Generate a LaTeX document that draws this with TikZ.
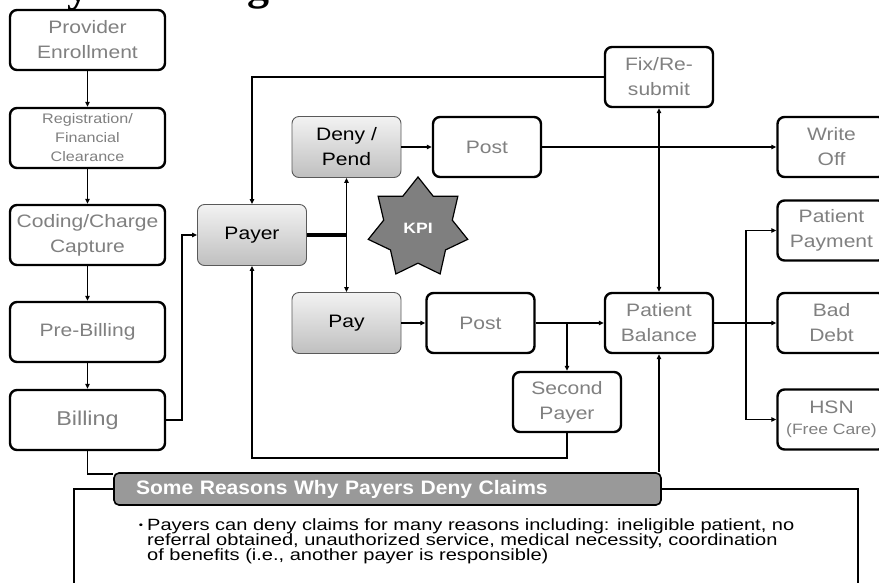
\documentclass[tikz,border=0pt]{standalone}
\usepackage{fontspec}
\setmainfont{Liberation Sans}[FakeStretch=1.17]
\newfontfamily\headfont{Liberation Sans}[FakeStretch=1.08]
\newfontfamily\notefont{Liberation Sans}[FakeStretch=1.23]
\newfontfamily\titlefont{Liberation Serif}
\usetikzlibrary{shapes.geometric,arrows.meta}
\definecolor{boxtext}{HTML}{808080}
\definecolor{headfill}{HTML}{999999}
\definecolor{kpifill}{HTML}{7F7F7F}

\begin{document}
\begin{tikzpicture}[x=1pt,y=-1pt,
  flow/.style={draw=black, line width=2.4pt, rounded corners=7pt, fill=white,
    text=boxtext, align=center, inner sep=0pt, minimum width=108pt,
    minimum height=60pt, font=\fontsize{18}{25}\selectfont},
  wide/.style={flow, minimum width=155pt},
  small/.style={font=\fontsize{13.8}{19}\selectfont},
  shaded/.style={draw=black!65, line width=0.9pt, rounded corners=7pt,
    top color=black!5, bottom color=black!25, text=black, align=center,
    inner sep=0pt, minimum width=109pt, minimum height=61pt,
    font=\fontsize{18}{25}\selectfont},
  link/.style={line width=1.8pt},
  arr/.style={link, -{Triangle[length=5pt,width=4.5pt]}},
]
\useasboundingbox (0,0) rectangle (879,582);

% heading glyphs cut by the top edge
\begin{scope}
  \clip (0,0) rectangle (879,582);
  \node[anchor=base, inner sep=0pt, font=\titlefont\bfseries\fontsize{44}{44}\selectfont] (ty) at (78,1) {y};
  \node[anchor=base, inner sep=0pt, font=\titlefont\bfseries\fontsize{44}{44}\selectfont] (tg) at (258,-1) {g};
\end{scope}

% left column
\node[wide] (prov) at (87.5,40) {Provider\\Enrollment};
\node[wide, small] (reg) at (87.5,138) {Registration/\\Financial\\Clearance};
\node[wide] (cod) at (87.5,235) {Coding/Charge\\Capture};
\node[wide] (pre) at (87.5,332) {Pre-Billing};
\node[wide, font=\fontsize{20}{25}\selectfont] (bill) at (87.5,420) {Billing};

% payer decisions
\node[shaded] (payer) at (252,235) {Payer};
\node[shaded] (deny) at (346.5,147) {Deny /\\Pend};
\node[shaded] (pay) at (346.5,323) {Pay};

% posting and follow-up
\node[flow] (posta) at (487,147) {Post};
\node[flow] (fix) at (659,77) {Fix/Re-\\submit};
\node[flow] (wo) at (831.5,147) {Write\\Off};
\node[flow] (postb) at (480.5,323) {Post};
\node[flow] (bal) at (659,323) {Patient\\Balance};
\node[flow] (sec) at (567,402) {Second\\Payer};
\node[flow] (pp) at (831.5,230.5) {Patient\\Payment};
\node[flow] (bd) at (831.5,323) {Bad\\Debt};
\node[flow] (hsn) at (831.5,419.5) {HSN\\[-4pt]{\fontsize{15}{18}\selectfont(Free Care)}};

\node[star, star points=7, star point ratio=1.45, minimum size=102pt, inner sep=0pt,
  fill=kpifill, draw=black, line width=1.2pt, text=white,
  font=\bfseries\fontsize{15}{18}\selectfont] (kpi) at (418,228) {KPI};

% left column flow
\draw[arr] (prov) -- (reg);
\draw[arr] (reg) -- (cod);
\draw[arr] (cod) -- (pre);
\draw[arr] (pre) -- (bill);
\draw[arr] (bill.east) -- ++(16,0) |- (payer.west);

% resubmission loop back to the payer
\draw[arr] (fix.west) -| (payer.north);

% payer outcome split
\coordinate (split) at (346.5,235);
\draw[line width=3.6pt] (payer.east) -- (split);
\draw[arr] (split) -- (deny.south);
\draw[arr] (split) -- (pay.north);

% denial path
\draw[arr] (deny) -- (posta);
\draw[arr] (posta) -- (wo);
\coordinate (fork) at (fix.south |- posta.east);
\draw[arr] (fork) -- (fix.south);
\draw[arr] (fork) -- (bal.north);

% payment path
\draw[arr] (pay) -- (postb);
\draw[arr] (postb) -- (bal);
\coordinate (branch) at (sec.north |- postb.east);
\draw[arr] (branch) -- (sec.north);
\draw[arr] (sec.south) -- ++(0,25) -| (payer.south);

% patient balance outcomes
\coordinate (rail) at (746,323);
\draw[arr] (bal) -- (bd);
\draw[arr] (rail) |- (pp.west);
\draw[arr] (rail) |- (hsn.west);

% reasons panel
\draw[line width=2pt] (74,600) -- (74,489) -- (858,489) -- (858,600);
\node[draw=black, line width=1.6pt, rounded corners=5pt, fill=headfill, text=white,
  minimum width=547pt, minimum height=32pt, inner sep=0pt, text width=503pt,
  align=left, font=\headfont\bfseries\fontsize{19.5}{22}\selectfont]
  (head) at (387.5,489) {Some Reasons Why Payers Deny Claims};
\coordinate (hl) at (113,474);
\draw[link] (bill.south) |- (hl);
\draw[arr] (head.north east -| bal.south) -- (bal.south);

\node[anchor=north west, inner sep=0pt, align=left,
  font=\notefont\fontsize{16.3}{15.4}\selectfont] (note) at (147,518)
  {\llap{\raisebox{1.5pt}{\scalebox{0.6}{\textbullet}}\hspace{4pt}}Payers can deny claims for many reasons including: ineligible patient, no\\
   referral obtained, unauthorized service, medical necessity, coordination\\
   of benefits (i.e., another payer is responsible)};
\end{tikzpicture}
\end{document}
